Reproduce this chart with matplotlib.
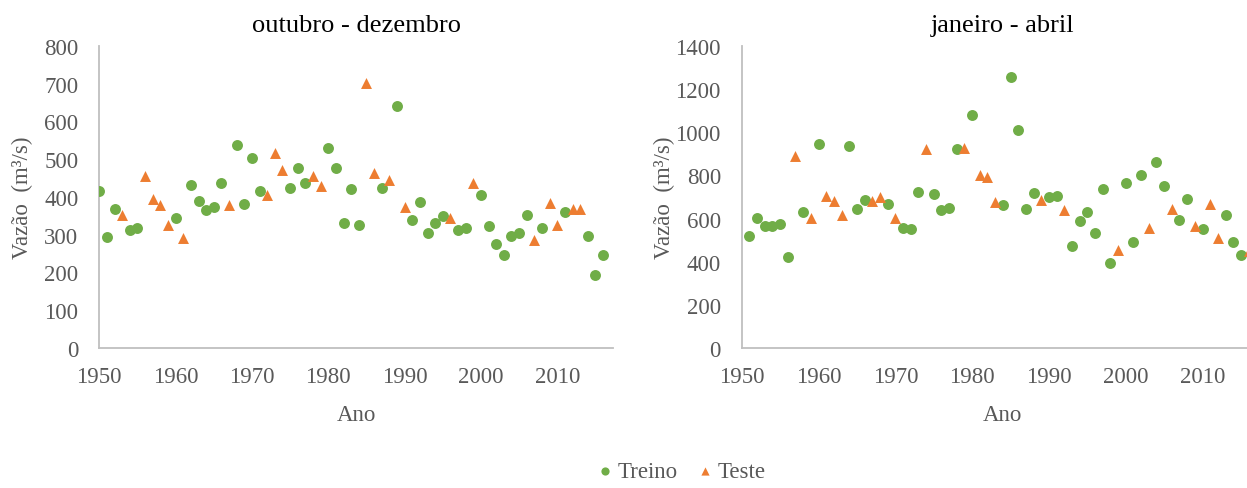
import matplotlib.pyplot as plt

# outubro - dezembro
od_treino_ano = [1950, 1951, 1952, 1954, 1955, 1960, 1962, 1963, 1964, 1965, 1966, 1968, 1969, 1970, 1971,
                 1975, 1976, 1977, 1980, 1981, 1982, 1983, 1984, 1987, 1989, 1991, 1992, 1993, 1994, 1995,
                 1997, 1998, 2000, 2001, 2002, 2003, 2004, 2005, 2006, 2008, 2011, 2014, 2015, 2016]
od_treino_vazao = [416, 293, 369, 313, 319, 344, 432, 390, 365, 374, 437, 538, 382, 502, 416,
                   425, 476, 437, 531, 476, 332, 420, 327, 425, 642, 339, 386, 305, 332, 350,
                   313, 318, 405, 323, 275, 246, 297, 305, 353, 318, 360, 297, 194, 246]
od_teste_ano = [1953, 1956, 1957, 1958, 1959, 1961, 1967, 1972, 1973, 1974, 1978, 1979, 1985, 1986,
                1988, 1990, 1996, 1999, 2007, 2009, 2010, 2012, 2013]
od_teste_vazao = [353, 455, 395, 379, 327, 292, 379, 404, 517, 471, 455, 429, 702, 463,
                  446, 374, 344, 437, 287, 385, 327, 368, 368]

# janeiro - abril
ja_treino_ano = [1951, 1952, 1953, 1954, 1955, 1956, 1958, 1960, 1964, 1965, 1966, 1969, 1971, 1972, 1973,
                 1975, 1976, 1977, 1978, 1980, 1984, 1985, 1986, 1987, 1988, 1990, 1991, 1993, 1994, 1995,
                 1996, 1997, 1998, 2000, 2001, 2002, 2004, 2005, 2007, 2008, 2010, 2013, 2014, 2015]
ja_treino_vazao = [519, 603, 566, 566, 573, 423, 632, 944, 936, 646, 685, 669, 558, 550, 722,
                   714, 640, 648, 922, 1080, 663, 1258, 1012, 646, 720, 700, 706, 474, 587, 632,
                   535, 736, 394, 765, 491, 802, 862, 751, 593, 691, 550, 618, 491, 430]
ja_teste_ano = [1957, 1959, 1961, 1962, 1963, 1967, 1968, 1970, 1974, 1979, 1981, 1982, 1983, 1989,
                1992, 1999, 2003, 2006, 2009, 2011, 2012, 2016]
ja_teste_vazao = [892, 601, 706, 683, 618, 683, 699, 601, 922, 929, 802, 794, 677, 685,
                  640, 453, 556, 644, 564, 669, 511, 451]

verde = '#70AD47'
laranja = '#ED7D31'
cinza = '#595959'

plt.rcParams['font.family'] = ['Liberation Serif', 'DejaVu Serif']

fig = plt.figure(figsize=(12.47, 4.89), dpi=100)
ax1 = fig.add_axes([0.0796, 0.2863, 0.412, 0.6176])
ax2 = fig.add_axes([0.5948, 0.2863, 0.4188, 0.6176])

paineis = [
    (ax1, 'outubro - dezembro', od_treino_ano, od_treino_vazao, od_teste_ano, od_teste_vazao, 800, 100, 2017.3),
    (ax2, 'janeiro - abril', ja_treino_ano, ja_treino_vazao, ja_teste_ano, ja_teste_vazao, 1400, 200, 2018),
]

for ax, titulo, ta, tv, ea, ev, ymax, passo, xmax in paineis:
    ax.scatter(ta, tv, s=62, color=verde, marker='o', linewidths=0, label='Treino', zorder=3)
    ax.scatter(ea, ev, s=62, color=laranja, marker='^', linewidths=0, label='Teste', zorder=3)
    ax.set_xlim(1950, xmax)
    ax.set_ylim(0, ymax)
    ax.set_xticks(range(1950, 2011, 10))
    ax.set_yticks(range(0, ymax + 1, passo))
    for s in ['top', 'right']:
        ax.spines[s].set_visible(False)
    for s in ['left', 'bottom']:
        ax.spines[s].set_color('#bfbfbf')
        ax.spines[s].set_linewidth(1.3)
    ax.tick_params(length=0, labelsize=16.5, colors=cinza)
    ax.tick_params(axis='y', pad=15)
    ax.tick_params(axis='x', pad=13)
    ax.set_title(titulo, fontsize=19, color='black', pad=11)
    ax.set_xlabel('Ano', fontsize=16.5, color=cinza, va='center')
    ax.set_ylabel('Vazão  (m³/s)', fontsize=16.5, color=cinza, va='center')
    w = ax.get_position().width * 1247
    ax.yaxis.set_label_coords(-77 / w, 0.5)
    ax.xaxis.set_label_coords(0.5, -66 / 302)

handles, labels = ax1.get_legend_handles_labels()
leg = fig.legend(handles, labels, loc='center', bbox_to_anchor=(0.545, 0.033), ncol=2,
                 frameon=False, fontsize=16.5, handletextpad=0.05, columnspacing=0.7,
                 handlelength=1.0, markerscale=0.75, labelcolor=cinza)

plt.savefig('out.png', dpi=100)
